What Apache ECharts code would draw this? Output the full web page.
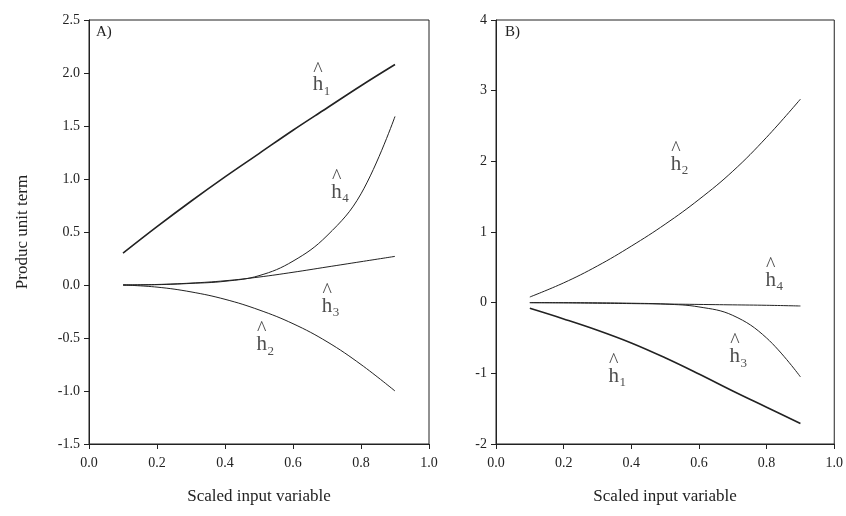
<!DOCTYPE html>
<html>
<head>
<meta charset="utf-8">
<script src="https://cdn.jsdelivr.net/npm/echarts@6/dist/echarts.min.js"></script>
<title>Product unit terms</title>
</head>
<body style="margin:0;background:#fff">
<div id="main" style="width:846px;height:516px;"></div>
<script type="text/javascript">
// scaled input values
var xs = [0.1, 0.2, 0.3, 0.4, 0.5, 0.6, 0.7, 0.8, 0.9];

// panel A
var a_h1 = [0.30, 0.55, 0.79, 1.02, 1.24, 1.46, 1.67, 1.88, 2.08];
var a_h2 = [0.00, -0.02, -0.065, -0.135, -0.235, -0.365, -0.535, -0.75, -1.00];
var a_h3 = [0.00, 0.005, 0.018, 0.04, 0.075, 0.12, 0.17, 0.22, 0.27];
var a_h4 = [0.00, 0.003, 0.015, 0.035, 0.088, 0.225, 0.465, 0.86, 1.59];

// panel B
var b_h1 = [-0.08, -0.23, -0.39, -0.57, -0.78, -1.01, -1.25, -1.48, -1.71];
var b_h2 = [0.08, 0.28, 0.52, 0.80, 1.11, 1.46, 1.86, 2.34, 2.88];
var b_h3 = [0.00, 0.00, -0.002, -0.008, -0.02, -0.06, -0.18, -0.50, -1.05];
var b_h4 = [0.00, -0.003, -0.008, -0.013, -0.019, -0.025, -0.031, -0.037, -0.047];

// curve labels [x, y, index]
var a_labels = [[0.685, 1.93, '1'], [0.52, -0.52, '2'], [0.712, -0.16, '3'], [0.74, 0.915, '4']];
var b_labels = [[0.36, -0.98, '1'], [0.544, 2.02, '2'], [0.718, -0.70, '3'], [0.824, 0.38, '4']];

var font = '"Liberation Serif", "Times New Roman", serif';
var ink = '#222';

function pairs(ys) {
    var out = [];
    for (var i = 0; i < xs.length; i++) out.push([xs[i], ys[i]]);
    return out;
}

function curve(name, idx, ys, w) {
    return {
        name: name, type: 'line', xAxisIndex: idx, yAxisIndex: idx,
        data: pairs(ys), smooth: 0.4, showSymbol: false, silent: true,
        lineStyle: {color: ink, width: w}
    };
}

// h with a hat on top
function hatSeries(idx, list) {
    return {
        type: 'scatter', xAxisIndex: idx, yAxisIndex: idx, symbolSize: 0, silent: true,
        data: list.map(function (d) { return [d[0], d[1]]; }),
        label: {
            show: true, position: 'inside', offset: [-4, 0], fontFamily: font, color: ink,
            formatter: '{c|^}\n{h|h}',
            rich: {
                c: {fontSize: 20, lineHeight: 9, fontFamily: font, color: ink},
                h: {fontSize: 21, lineHeight: 20, fontFamily: font, color: ink}
            }
        }
    };
}

// the index below the h
function subSeries(idx, list) {
    return {
        type: 'scatter', xAxisIndex: idx, yAxisIndex: idx, symbolSize: 0, silent: true,
        data: list.map(function (d) { return {value: [d[0], d[1]], sub: d[2]}; }),
        label: {
            show: true, position: 'inside', offset: [5, 11],
            fontFamily: font, fontSize: 13, color: ink,
            formatter: function (p) { return p.data.sub; }
        }
    };
}

function xAxisOf(idx) {
    return {
        type: 'value', gridIndex: idx, min: 0, max: 1, interval: 0.2,
        name: 'Scaled input variable', nameLocation: 'middle', nameGap: 44,
        nameTextStyle: {fontFamily: font, fontSize: 17, color: ink},
        axisLine: {onZero: false, lineStyle: {color: ink, width: 1}},
        axisTick: {show: true, inside: false, length: 5, lineStyle: {color: ink}},
        axisLabel: {fontFamily: font, fontSize: 14, color: ink, margin: 12,
            formatter: function (v) { return v.toFixed(1); }},
        splitLine: {show: false}
    };
}

var myChart = echarts.init(document.getElementById('main'));
var option = {
    animation: false,
    backgroundColor: '#fff',
    grid: [
        {left: 89, top: 20, width: 340, height: 424, show: true, borderColor: ink, borderWidth: 1},
        {left: 496, top: 20, width: 340, height: 424, show: true, borderColor: ink, borderWidth: 1}
    ],
    xAxis: [xAxisOf(0), xAxisOf(1)],
    yAxis: [
        {
            type: 'value', gridIndex: 0, min: -1.5, max: 2.5, interval: 0.5,
            name: 'Produc unit term', nameLocation: 'middle', nameGap: 58,
            nameTextStyle: {fontFamily: font, fontSize: 17, color: ink},
            axisLine: {show: true, onZero: false, lineStyle: {color: ink}},
            axisTick: {show: true, length: 5, lineStyle: {color: ink}},
            axisLabel: {fontFamily: font, fontSize: 14, color: ink, margin: 9,
                formatter: function (v) { return v.toFixed(1); }},
            splitLine: {show: false}
        },
        {
            type: 'value', gridIndex: 1, min: -2, max: 4, interval: 1,
            axisLine: {show: true, onZero: false, lineStyle: {color: ink}},
            axisTick: {show: true, length: 5, lineStyle: {color: ink}},
            axisLabel: {fontFamily: font, fontSize: 14, color: ink, margin: 9},
            splitLine: {show: false}
        }
    ],
    graphic: [
        {type: 'text', left: 96, top: 25, style: {text: 'A)', fontFamily: font, fontSize: 15, fill: ink}},
        {type: 'text', left: 505, top: 25, style: {text: 'B)', fontFamily: font, fontSize: 15, fill: ink}}
    ],
    series: [
        curve('A h1', 0, a_h1, 1.6),
        curve('A h2', 0, a_h2, 1),
        curve('A h3', 0, a_h3, 1),
        curve('A h4', 0, a_h4, 1),
        curve('B h1', 1, b_h1, 1.6),
        curve('B h2', 1, b_h2, 1),
        curve('B h3', 1, b_h3, 1),
        curve('B h4', 1, b_h4, 1),
        hatSeries(0, a_labels),
        subSeries(0, a_labels),
        hatSeries(1, b_labels),
        subSeries(1, b_labels)
    ]
};
myChart.setOption(option);
</script>
</body>
</html>
